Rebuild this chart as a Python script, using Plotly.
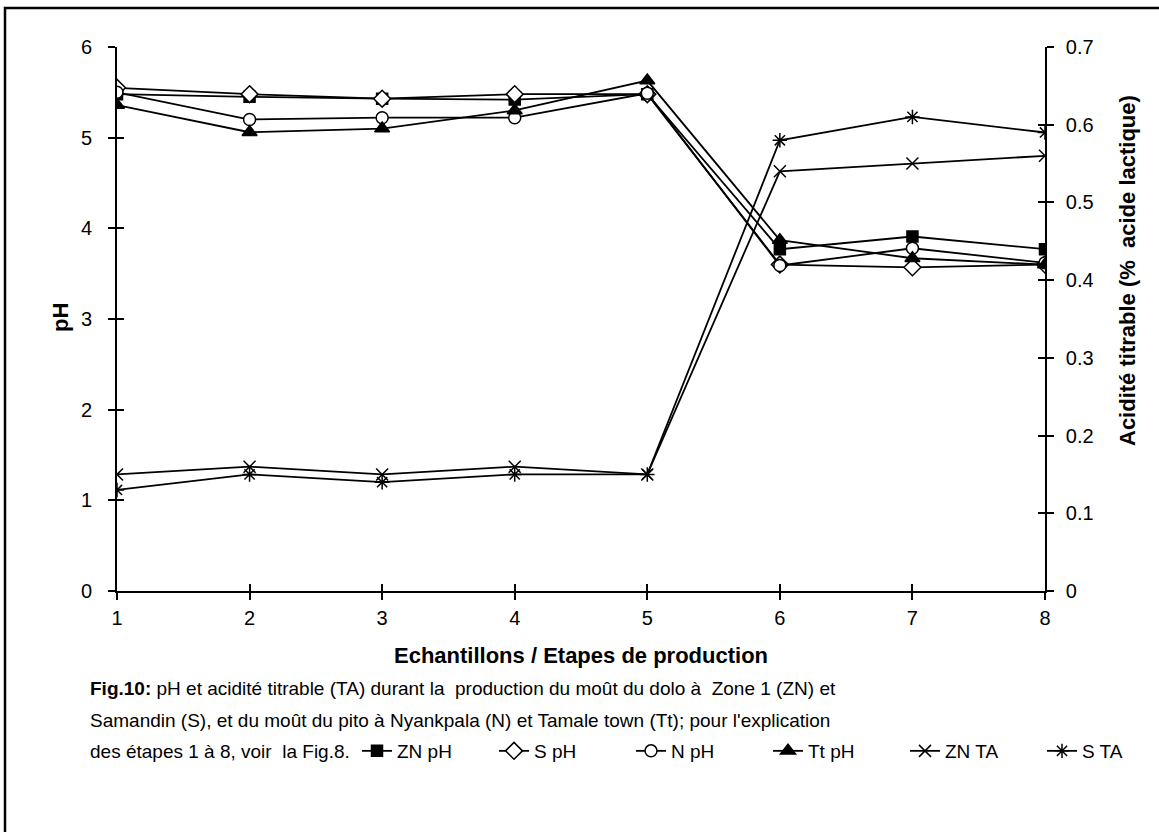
import plotly.graph_objects as go

# ---- data ----
steps = [1, 2, 3, 4, 5, 6, 7, 8]
zn_ph = [5.48, 5.45, 5.43, 5.42, 5.48, 3.77, 3.91, 3.77]
s_ph = [5.55, 5.48, 5.43, 5.48, 5.48, 3.60, 3.57, 3.60]
n_ph = [5.50, 5.20, 5.22, 5.22, 5.49, 3.59, 3.78, 3.62]
tt_ph = [5.36, 5.06, 5.10, 5.30, 5.63, 3.87, 3.67, 3.60]
zn_ta = [0.15, 0.16, 0.15, 0.16, 0.15, 0.54, 0.55, 0.56]
s_ta = [0.13, 0.15, 0.14, 0.15, 0.15, 0.58, 0.61, 0.59]

ph_ticks = [0, 1, 2, 3, 4, 5, 6]
ta_ticks = [0, 0.1, 0.2, 0.3, 0.4, 0.5, 0.6, 0.7]
ta_labels = ["0", "0.1", "0.2", "0.3", "0.4", "0.5", "0.6", "0.7"]

FONT = "Liberation Sans, Arial, sans-serif"
LW = 1.8

fig = go.Figure()

def add(name, y, symbol, fill, axis="y", size=12):
    fig.add_trace(go.Scatter(
        x=steps, y=y, name=name, mode="lines+markers", yaxis=axis,
        line=dict(color="black", width=LW),
        marker=dict(symbol=symbol, size=size, color=fill,
                    line=dict(color="black", width=1.5)),
    ))

add("ZN pH", zn_ph, "square", "black", size=11)
add("S pH", s_ph, "diamond", "white", size=13)
add("N pH", n_ph, "circle", "white")
add("Tt pH", tt_ph, "triangle-up", "black", size=13)
add("ZN TA", zn_ta, "x-thin", "black", "y2")
add("S TA", s_ta, "asterisk", "black", "y2")

# dummy traces for inner halves of the crossing ticks
fig.add_trace(go.Scatter(x=[None], y=[None], xaxis="x2", yaxis="y3",
                         showlegend=False, hoverinfo="skip"))
fig.add_trace(go.Scatter(x=[None], y=[None], xaxis="x", yaxis="y4",
                         showlegend=False, hoverinfo="skip"))

axfont = dict(family=FONT, size=20, color="black")
common = dict(showgrid=False, zeroline=False, linecolor="black", linewidth=1.6,
              tickcolor="black", tickwidth=1.6, ticklen=7)

fig.update_layout(
    width=1159, height=832,
    paper_bgcolor="white", plot_bgcolor="white",
    margin=dict(l=117, r=114, t=47, b=241, autoexpand=False),
    showlegend=True,
    font=dict(family=FONT, color="black"),
    xaxis=dict(range=[1, 8], tickvals=steps, ticks="outside", showline=True,
               tickfont=axfont, ticklabelstandoff=1, **common),
    xaxis2=dict(range=[1, 8], tickvals=steps, ticks="inside", overlaying="x",
                anchor="y", showline=False, showticklabels=False, **common),
    yaxis=dict(range=[0, 6], tickvals=ph_ticks, ticks="outside", showline=True,
               tickfont=axfont, ticklabelstandoff=12, **common),
    yaxis3=dict(range=[0, 6], tickvals=ph_ticks, ticks="inside", overlaying="y",
                anchor="x", side="left", showline=False, showticklabels=False, **common),
    yaxis2=dict(range=[0, 0.7], tickvals=ta_ticks, ticktext=ta_labels, ticks="outside",
                overlaying="y", side="right", anchor="x", showline=True,
                tickfont=axfont, ticklabelstandoff=8, **common),
    yaxis4=dict(range=[0, 0.7], tickvals=ta_ticks, ticks="inside", overlaying="y",
                side="right", anchor="x", showline=False, showticklabels=False, **common),
    legend=dict(orientation="h", x=(357 - 117) / 928, xanchor="left",
                y=(591 - 751) / 544, yanchor="middle",
                font=dict(family=FONT, size=19, color="black"),
                bgcolor="rgba(0,0,0,0)", itemclick=False,
                entrywidth=92, entrywidthmode="pixels"),
)

# axis titles
fig.add_annotation(text="<b>Echantillons / Etapes de production</b>", xref="paper", yref="paper",
                   x=(581 - 117) / 928, y=(591 - 655) / 544, showarrow=False,
                   font=dict(family=FONT, size=22), xanchor="center", yanchor="middle")
fig.add_annotation(text="<b>pH</b>", xref="paper", yref="paper",
                   x=(60 - 117) / 928, y=(591 - 318) / 544, textangle=-90, showarrow=False,
                   font=dict(family=FONT, size=22), xanchor="center", yanchor="middle")
fig.add_annotation(text="<b>Acidité titrable (%  acide lactique)</b>", xref="paper", yref="paper",
                   x=(1127 - 117) / 928, y=(591 - 271) / 544, textangle=-90, showarrow=False,
                   font=dict(family=FONT, size=22), xanchor="center", yanchor="middle")

# caption
cap = [
    ("<b>Fig.10:</b> pH et acidité titrable (TA) durant la  production du moût du dolo à  Zone 1 (ZN) et", 688),
    ("Samandin (S), et du moût du pito à Nyankpala (N) et Tamale town (Tt); pour l'explication", 720),
    ("des étapes 1 à 8, voir  la Fig.8.", 751),
]
for t, yy in cap:
    fig.add_annotation(text=t, xref="paper", yref="paper", x=(88 - 117) / 928,
                       y=(591 - yy) / 544, xanchor="left", yanchor="middle",
                       showarrow=False, font=dict(family=FONT, size=19, color="black"))

# outer frame (left and top edges visible)
fig.add_shape(type="rect", xref="paper", yref="paper",
              x0=(5 - 117) / 928, x1=(1175 - 117) / 928,
              y0=(591 - 850) / 544, y1=(591 - 8) / 544,
              line=dict(color="black", width=2.5), fillcolor="rgba(0,0,0,0)", layer="below")

fig.write_html("out.html", config={"displayModeBar": False},
               post_script="document.body.style.margin='0';")
